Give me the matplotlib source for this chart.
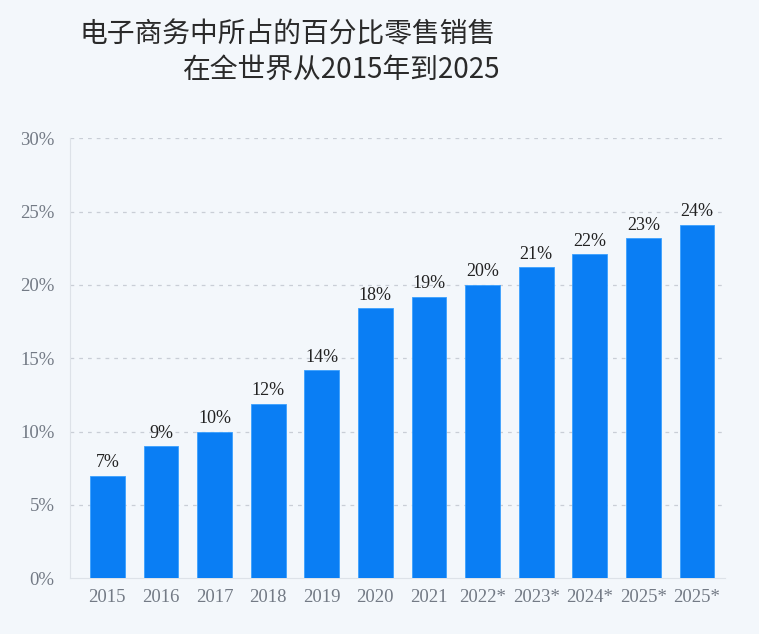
import matplotlib
matplotlib.use("Agg")
import matplotlib.pyplot as plt

years = ["2015", "2016", "2017", "2018", "2019", "2020", "2021",
         "2022*", "2023*", "2024*", "2025*", "2025*"]
share = [7.0, 9.0, 10.0, 11.9, 14.2, 18.4, 19.2, 20.0, 21.2, 22.1, 23.2, 24.1]
labels = ["7%", "9%", "10%", "12%", "14%", "18%", "19%", "20%", "21%", "22%", "23%", "24%"]
yticks = [0, 5, 10, 15, 20, 25, 30]

bg = "#f3f7fb"
blue = "#0a7ef4"

fig = plt.figure(figsize=(7.59, 6.34), dpi=100, facecolor=bg)
ax = fig.add_axes([0.092, 0.088, 0.863, 0.694], facecolor=bg)

x = list(range(len(years)))
ax.bar(x, share, width=0.65, color=blue, edgecolor="#3aa0ff", linewidth=0.6, zorder=3)

# value labels above bars
for xi, v, t in zip(x, share, labels):
    ax.text(xi, v + 0.3, t, ha="center", va="bottom", fontsize=13,
            family="Liberation Serif", color="#222222", zorder=4)

ax.set_ylim(0, 30)
ax.set_xlim(-0.7, 11.52)
ax.set_yticks(yticks)
ax.set_yticklabels([f"{t}%" for t in yticks])
ax.set_xticks(x)
ax.set_xticklabels(years)
for lab in ax.get_xticklabels() + ax.get_yticklabels():
    lab.set_family("Liberation Serif")
    lab.set_fontsize(13.5)
    lab.set_color("#737a85")
ax.tick_params(axis="both", length=0)
ax.tick_params(axis="y", pad=11)
ax.tick_params(axis="x", pad=8)

for t in yticks[1:]:
    ax.axhline(t, color="#c9ced6", linestyle=(0, (3, 4)), linewidth=0.9, zorder=1)

for s in ["top", "right"]:
    ax.spines[s].set_visible(False)
ax.spines["left"].set_color("#dde2e8")
ax.spines["bottom"].set_color("#dde2e8")

fig.text(0.105, 0.945, "电子商务中所占的百分比零售销售", ha="left", va="center",
         fontsize=20, family=["Noto Sans CJK SC", "DejaVu Sans"], color="#2a2a2a")
fig.text(0.659, 0.89, "在全世界从2015年到2025", ha="right", va="center",
         fontsize=20, family=["Noto Sans CJK SC", "DejaVu Sans"], color="#2a2a2a")

fig.savefig("out.png", dpi=100, facecolor=bg)
